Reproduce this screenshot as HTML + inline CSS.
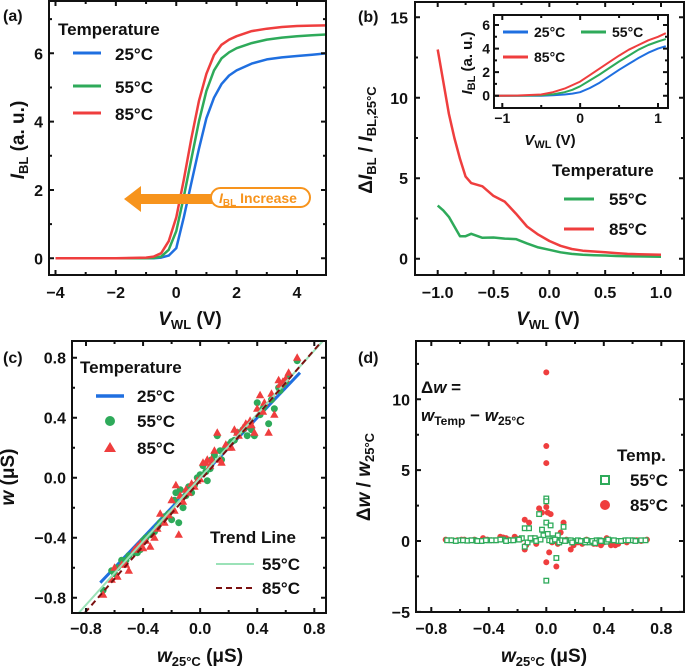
<!DOCTYPE html>
<html><head><meta charset="utf-8">
<style>
html,body{margin:0;padding:0;background:#fff;}
svg{display:block;font-family:"Liberation Sans",Arial,sans-serif;font-weight:bold;}
</style></head>
<body>
<svg id="fig" width="685" height="672" viewBox="0 0 685 672" xmlns="http://www.w3.org/2000/svg">
<g id="layer"></g>
</svg>
<script>
// ---------- DATA ----------
// Panel (a)
const aX = [-4,-2,-1,-0.75,-0.5,-0.25,0,0.25,0.5,0.75,1,1.25,1.5,1.75,2,2.5,3,3.5,4,4.5,5];
const a25 = [0,0,0,0,0.02,0.08,0.3,1.2,2.2,3.2,4.1,4.7,5.1,5.35,5.5,5.7,5.82,5.88,5.92,5.96,6.0];
const a55 = [0,0,0,0.01,0.05,0.25,0.8,1.8,2.9,4.0,4.9,5.5,5.85,6.03,6.15,6.3,6.4,6.46,6.5,6.53,6.55];
const a85 = [0,0,0.02,0.05,0.15,0.5,1.2,2.3,3.5,4.6,5.4,5.95,6.25,6.4,6.5,6.65,6.72,6.77,6.8,6.81,6.82];
const aXTicks = [-4,-2,0,2,4];
const aYTicks = [0,2,4,6];
// Panel (b)
const bX = [-1,-0.95,-0.9,-0.85,-0.8,-0.75,-0.7,-0.6,-0.5,-0.4,-0.3,-0.2,-0.1,0,0.1,0.2,0.3,0.4,0.5,0.6,0.7,0.8,1.0];
const b85 = [13,11,9,7.5,6.2,5.1,4.7,4.5,3.9,3.55,2.8,2.0,1.5,1.1,0.8,0.6,0.5,0.45,0.4,0.35,0.3,0.28,0.25];
const b55 = [3.3,3.0,2.6,2.0,1.4,1.4,1.55,1.3,1.32,1.25,1.22,0.95,0.7,0.55,0.4,0.3,0.25,0.22,0.2,0.17,0.15,0.14,0.12];
const bXTicks = [-1.0,-0.5,0.0,0.5,1.0];
const bXLabels = ["\u22121.0","\u22120.5","0.0","0.5","1.0"];
const bYTicks = [0,5,10,15];
// Inset
const iX = [-1.1,-0.8,-0.5,-0.35,-0.2,-0.1,0,0.125,0.25,0.375,0.5,0.625,0.75,0.875,1,1.1];
const i25 = [0,0,0,0.03,0.1,0.18,0.3,0.65,1.1,1.65,2.2,2.7,3.2,3.65,4.0,4.2];
const i55 = [0,0,0.03,0.12,0.3,0.5,0.8,1.3,1.8,2.35,2.9,3.4,3.9,4.3,4.6,4.8];
const i85 = [0,0.02,0.1,0.3,0.6,0.9,1.2,1.75,2.3,2.85,3.4,3.9,4.3,4.7,5.0,5.3];
const iXTicks = [-1,0,1];
const iYTicks = [0,2,4,6];
// Panel (c)
const cX   = [-0.68,-0.62,-0.58,-0.55,-0.5,-0.46,-0.42,-0.4,-0.35,-0.32,-0.28,-0.25,-0.2,-0.17,-0.15,-0.12,-0.1,-0.06,-0.02,0.02,0.05,0.08,0.1,0.12,0.15,0.18,0.2,0.24,0.27,0.3,0.33,0.36,0.38,0.4,0.42,0.45,0.48,0.52,0.55,0.58,0.62,0.68,
              -0.6,-0.52,-0.44,-0.38,-0.3,-0.22,-0.18,-0.14,-0.08,-0.04,0.0,0.04,0.07,0.14,0.22,0.26,0.32,0.35,0.44,0.5,0.56,0.6];
const c55  = [-0.75,-0.62,-0.6,-0.55,-0.52,-0.5,-0.48,-0.42,-0.38,-0.36,-0.3,-0.26,-0.28,-0.1,-0.3,-0.2,-0.12,-0.1,0.0,0.08,-0.02,0.12,0.15,0.28,0.12,0.2,0.22,0.25,0.3,0.32,0.28,0.32,0.28,0.5,0.42,0.48,0.36,0.46,0.6,0.62,0.68,0.78,
              -0.64,-0.55,-0.5,-0.4,-0.33,-0.24,-0.15,-0.08,-0.06,-0.05,0.02,0.04,0.06,0.18,0.24,0.3,0.34,0.36,0.46,0.52,0.58,0.64];
const c85  = [-0.78,-0.68,-0.66,-0.58,-0.62,-0.48,-0.44,-0.47,-0.46,-0.4,-0.24,-0.3,-0.15,-0.05,-0.38,-0.16,-0.08,-0.04,-0.02,0.1,0.12,0.12,0.18,0.3,0.1,0.22,0.2,0.32,0.28,0.33,0.35,0.35,0.3,0.46,0.55,0.5,0.3,0.42,0.65,0.64,0.7,0.8,
              -0.6,-0.58,-0.46,-0.42,-0.34,-0.25,-0.22,-0.12,-0.1,-0.06,-0.01,0.1,0.08,0.12,0.2,0.3,0.36,0.38,0.44,0.56,0.62,0.66];
const c25Line = [-0.7,0.7];
const cTrend55 = [1.06,0.0];
const cTrend85 = [1.09,-0.02];
const cTicks = [-0.8,-0.4,0.0,0.4,0.8];
const cLabels = ["\u22120.8","\u22120.4","0.0","0.4","0.8"];
// Panel (d)
const dX55 = [-0.69,-0.6,-0.55,-0.5,-0.45,-0.4,-0.35,-0.3,-0.25,-0.2,-0.17,-0.15,-0.15,-0.12,-0.1,-0.08,-0.05,-0.03,-0.02,0,0,0,0,0.01,0.02,0.03,0.05,0.07,0.08,0.1,0.12,0.15,0.2,0.25,0.3,0.35,0.4,0.45,0.5,0.55,0.6,0.66,
              -0.66,-0.63,-0.58,-0.52,-0.48,-0.42,-0.38,-0.32,-0.28,-0.23,-0.19,-0.13,-0.11,-0.07,-0.04,0.04,0.06,0.09,0.11,0.13,0.17,0.18,0.22,0.24,0.27,0.28,0.32,0.34,0.37,0.38,0.42,0.43,0.47,0.52,0.57,0.62,0.69];
const d55  = [0.05,0.05,0.02,0.05,0.0,0.05,0.05,0.1,0.05,0.1,0.2,0.9,-0.4,0.9,0.1,0.2,1.9,0.8,0.4,3.0,2.8,1.3,-2.8,0.5,0.05,1.1,0.2,-1.2,0.4,0.05,1.0,0.05,0.0,0.0,-0.1,0.05,0.0,0.05,0.0,0.05,0.05,0.05,
              0.05,0.0,0.05,0.05,0.0,0.05,0.05,0.1,0.0,0.05,0.1,-0.1,0.2,0.0,0.1,0.0,0.1,-0.1,0.05,0.0,0.05,-0.1,0.05,0.0,-0.1,0.05,0.0,-0.15,0.05,0.0,-0.05,0.1,0.05,0.0,0.05,0.0,0.05];
const dX85 = [-0.7,-0.62,-0.57,-0.5,-0.44,-0.38,-0.32,-0.28,-0.22,-0.18,-0.15,-0.15,-0.12,-0.05,-0.03,0,0,0,0,0,0.01,0.02,0.03,0.05,0.07,0.1,0.12,0.17,0.22,0.28,0.33,0.38,0.42,0.48,0.53,0.6,0.7,
              -0.66,-0.59,-0.53,-0.47,-0.41,-0.35,-0.3,-0.26,-0.2,-0.14,-0.09,-0.07,0.04,0.08,0.14,0.19,0.25,0.3,0.35,0.4,0.45,0.5,0.56,0.63,0.66];
const d85  = [0.1,0.05,0.1,0.1,0.2,0.05,0.3,0.2,0.3,0.1,1.5,-0.6,1.3,2.3,2.0,11.9,6.7,5.5,2.4,-1.5,2.0,-0.8,1.9,0.0,-1.8,0.6,1.3,-0.6,-0.1,0.1,-0.2,-0.3,0.2,-0.3,0.0,0.05,0.1,
              0.05,0.1,0.05,0.0,0.1,0.05,0.25,0.1,0.15,-0.3,0.2,-0.2,-0.1,-0.2,0.1,-0.3,-0.2,0.0,-0.2,-0.1,-0.3,-0.2,-0.1,0.05,0.0];
const dXTicks = [-0.8,-0.4,0.0,0.4,0.8];
const dYTicks = [-5,0,5,10];

// ---------- HELPERS ----------
const NS="http://www.w3.org/2000/svg";
const root=document.getElementById('layer');
function mk(tag,attrs,parent){const e=document.createElementNS(NS,tag);for(const k in attrs)e.setAttribute(k,attrs[k]);(parent||root).appendChild(e);return e;}
function lin(d0,d1,r0,r1){return v=>r0+(v-d0)*(r1-r0)/(d1-d0);}
const BLUE="#1f6fe0",GREEN="#2eaa5a",RED="#ef3e3e";
function ticks(box,xs,xt,ys,yt,xminor,yminor){
  const g=mk('g',{});
  
  
  let d='';
  const L=5,l=3;
  xt.forEach(v=>{const x=xs(v);d+=`M${x},${box.y1}v${-L}M${x},${box.y0}v${L}`;});
  (xminor||[]).forEach(v=>{const x=xs(v);d+=`M${x},${box.y1}v${-l}M${x},${box.y0}v${l}`;});
  yt.forEach(v=>{const y=ys(v);d+=`M${box.x0},${y}h${L}M${box.x1},${y}h${-L}`;});
  (yminor||[]).forEach(v=>{const y=ys(v);d+=`M${box.x0},${y}h${l}M${box.x1},${y}h${-l}`;});
  mk('path',{d:d,stroke:'#111','stroke-width':2,fill:'none'},g);
}
function frame(box,name){
  const r=mk('rect',{x:box.x0,y:box.y0,width:box.x1-box.x0,height:box.y1-box.y0,fill:'none',stroke:'#111','stroke-width':2});
  
  
}
function txt(x,y,s,opt){
  opt=opt||{};
  const t=mk('text',{x:x,y:y,'font-size':opt.size||16,'text-anchor':opt.anchor||'start',fill:opt.fill||'#111'});
  if(opt.rot)t.setAttribute('transform',`rotate(${opt.rot} ${x} ${y})`);
  t.innerHTML=s;
  
  
  return t;
}
function line(xs,ys,X,Y,color,name,w,dash){
  const p=X.map((v,i)=>`${i?'L':'M'}${xs(v).toFixed(1)},${ys(Y[i]).toFixed(1)}`).join('');
  const e=mk('path',{d:p,stroke:color,'stroke-width':w||2.5,fill:'none','stroke-linejoin':'round'});
  if(dash)e.setAttribute('stroke-dasharray',dash);
  
  
  return e;
}
function clip(id,box){
  const defs=mk('defs',{});const c=mk('clipPath',{id:id},defs);
  mk('rect',{x:box.x0,y:box.y0,width:box.x1-box.x0,height:box.y1-box.y0},c);
}

// ---------- PANEL A ----------
{
const box={x0:49,x1:326,y0:1,y1:275};
const xs=lin(-4,4,55.5,297),ys=lin(0,6,258.3,53.3);
clip('ca',box);
const g=mk('g',{'clip-path':'url(#ca)'});
g.appendChild(line(xs,ys,aX,a25,BLUE,'curve-25c'));
g.appendChild(line(xs,ys,aX,a55,GREEN,'curve-55c'));
g.appendChild(line(xs,ys,aX,a85,RED,'curve-85c'));
frame(box,'plot-frame-a');
ticks(box,xs,aXTicks,ys,aYTicks,[-3,-1,1,3],[1,3,5,7]);
aXTicks.forEach(v=>txt(xs(v),298,String(v).replace('-','\u2212'),{anchor:'middle',name:'x-tick-label'}));
aYTicks.forEach(v=>txt(43,ys(v)+6,v,{anchor:'end',name:'y-tick-label'}));
txt(3,21,'(a)',{name:'panel-label-a'});
txt(190,325,'<tspan font-style="italic">V</tspan><tspan font-size="13" dy="4">WL</tspan><tspan dy="-4"> (V)</tspan>',{size:19,anchor:'middle',name:'x-axis-title-a'});
txt(24,140,'<tspan font-style="italic">I</tspan><tspan font-size="13" dy="4">BL</tspan><tspan dy="-4"> (a. u.)</tspan>',{size:19,anchor:'middle',rot:-90,name:'y-axis-title-a'});
txt(58,35,'Temperature',{size:17,name:'legend-title-a'});
[[BLUE,'25°C',53],[GREEN,'55°C',86],[RED,'85°C',113]].forEach(([c,s,y])=>{
  const l=mk('line',{x1:73,x2:101,y1:y,y2:y,stroke:c,'stroke-width':3});
  
  txt(115,y+7,s,{size:17,name:'legend-entry'});
});
const ar=mk('path',{d:'M124,199 L141,186 L141,194 L212,194 L212,204 L141,204 L141,212 Z',fill:'#f7941d'});

const bx=mk('rect',{x:211,y:188,width:99,height:19,rx:9.5,fill:'#fff',stroke:'#f7941d','stroke-width':2});

txt(219,203,'<tspan font-style="italic">I</tspan><tspan font-size="10" dy="3">BL</tspan><tspan dy="-3"> Increase</tspan>',{size:14,fill:'#f7941d',name:'increase-label'});
}

// ---------- PANEL B ----------
{
const box={x0:415,x1:684,y0:2,y1:275};
const xs=lin(-1,1,437.7,661),ys=lin(0,15,258.7,17.3);
line(xs,ys,bX,b55,GREEN,'delta-55c');
line(xs,ys,bX,b85,RED,'delta-85c');
frame(box,'plot-frame-b');
ticks(box,xs,bXTicks,ys,bYTicks,[-0.75,-0.25,0.25,0.75],[2.5,7.5,12.5]);
bXTicks.forEach((v,i)=>txt(xs(v),298,bXLabels[i],{anchor:'middle',name:'x-tick-label'}));
bYTicks.forEach(v=>txt(408,ys(v)+6,v,{anchor:'end',name:'y-tick-label'}));
txt(358,22,'(b)',{name:'panel-label-b'});
txt(548,325,'<tspan font-style="italic">V</tspan><tspan font-size="13" dy="4">WL</tspan><tspan dy="-4"> (V)</tspan>',{size:19,anchor:'middle',name:'x-axis-title-b'});
txt(372,140,'Δ<tspan font-style="italic">I</tspan><tspan font-size="13" dy="4">BL</tspan><tspan dy="-4"> / </tspan><tspan font-style="italic">I</tspan><tspan font-size="13" dy="4">BL,25°C</tspan>',{size:19,anchor:'middle',rot:-90,name:'y-axis-title-b'});
txt(552,176,'Temperature',{size:17,name:'legend-title-b'});
[[GREEN,'55°C',199],[RED,'85°C',229]].forEach(([c,s,y])=>{
  const l=mk('line',{x1:564,x2:594,y1:y,y2:y,stroke:c,'stroke-width':3});
  
  txt(609,y+6,s,{size:17,name:'legend-entry'});
});
// inset
const ib={x0:494,x1:668,y0:15,y1:108};
const ixs=lin(-1,1,502.3,658),iys=lin(0,6,95.7,25);
const bg=mk('rect',{x:ib.x0,y:ib.y0,width:ib.x1-ib.x0,height:ib.y1-ib.y0,fill:'#fff'});

clip('ci',ib);
const g=mk('g',{'clip-path':'url(#ci)'});
g.appendChild(line(ixs,iys,iX,i25,BLUE,'inset-curve-25c',2));
g.appendChild(line(ixs,iys,iX,i55,GREEN,'inset-curve-55c',2));
g.appendChild(line(ixs,iys,iX,i85,RED,'inset-curve-85c',2));
frame(ib,'inset-frame');
ticks(ib,ixs,iXTicks,iys,iYTicks,[-0.5,0.5],[1,3,5]);
iXTicks.forEach(v=>txt(ixs(v),123,String(v).replace('-','\u2212'),{size:14,anchor:'middle',name:'inset-x-tick-label'}));
iYTicks.forEach(v=>txt(490,iys(v)+5,v,{size:14,anchor:'end',name:'inset-y-tick-label'}));
txt(550,145,'<tspan font-style="italic">V</tspan><tspan font-size="11" dy="3">WL</tspan><tspan dy="-3"> (V)</tspan>',{size:15,anchor:'middle',name:'inset-x-title'});
txt(472,63,'<tspan font-style="italic">I</tspan><tspan font-size="11" dy="3">BL</tspan><tspan dy="-3"> (a. u.)</tspan>',{size:15,anchor:'middle',rot:-90,name:'inset-y-title'});
[[BLUE,'25°C',506,32],[GREEN,'55°C',584,32],[RED,'85°C',506,57]].forEach(([c,s,x,y])=>{
  const l=mk('line',{x1:x-3,x2:x+22,y1:y,y2:y,stroke:c,'stroke-width':3});
  
  txt(x+28,y+5,s,{size:14,name:'inset-legend-entry'});
});
}

// ---------- PANEL C ----------
{
const box={x0:72,x1:326,y0:341,y1:613};
const xs=lin(-0.8,0.8,86,314.3),ys=lin(-0.8,0.8,597.7,357.7);
clip('cc',box);
const g=mk('g',{'clip-path':'url(#cc)'});
g.appendChild(line(xs,ys,c25Line,c25Line,BLUE,'line-25c',3));
cX.forEach((v,i)=>{const c=mk('circle',{cx:xs(v),cy:ys(c55[i]),r:3.5,fill:GREEN},g);
  });
cX.forEach((v,i)=>{const x=xs(v),y=ys(c85[i]);const p=mk('path',{d:`M${x},${y-4.5}L${x+4.2},${y+3}L${x-4.2},${y+3}Z`,fill:RED},g);
  });
const tx=[-0.9,0.9];
g.appendChild(line(xs,ys,tx,tx.map(v=>cTrend55[0]*v+cTrend55[1]),'#9be2b8','trend-55c',2));
g.appendChild(line(xs,ys,tx,tx.map(v=>cTrend85[0]*v+cTrend85[1]),'#7a1010','trend-85c',2,'6,4'));
frame(box,'plot-frame-c');
ticks(box,xs,cTicks,ys,cTicks,[-0.6,-0.2,0.2,0.6],[-0.6,-0.2,0.2,0.6]);
cTicks.forEach((v,i)=>txt(xs(v),634,cLabels[i],{anchor:'middle',name:'x-tick-label'}));
cTicks.forEach((v,i)=>txt(66,ys(v)+6,cLabels[i],{anchor:'end',name:'y-tick-label'}));
txt(3,363,'(c)',{name:'panel-label-c'});
txt(200,662,'<tspan font-style="italic">w</tspan><tspan font-size="13" dy="4">25°C</tspan><tspan dy="-4"> (μS)</tspan>',{size:19,anchor:'middle',name:'x-axis-title-c'});
txt(14,477,'<tspan font-style="italic">w</tspan> (μS)',{size:19,anchor:'middle',rot:-90,name:'y-axis-title-c'});
txt(80,373,'Temperature',{size:17,name:'legend-title-c'});
const l=mk('line',{x1:96,x2:124,y1:396,y2:396,stroke:BLUE,'stroke-width':3.5});

txt(137,402,'25°C',{size:17,name:'legend-entry'});
const c=mk('circle',{cx:110,cy:421,r:5,fill:GREEN});
txt(137,427,'55°C',{size:17,name:'legend-entry'});
const t=mk('path',{d:'M110,442L116,452L104,452Z',fill:RED});
txt(137,454,'85°C',{size:17,name:'legend-entry'});
txt(210,543,'Trend Line',{size:17,name:'legend-title-trend'});
const l2=mk('line',{x1:216,x2:254,y1:564,y2:564,stroke:'#9be2b8','stroke-width':2});

txt(262,570,'55°C',{size:17,name:'legend-entry'});
const l3=mk('line',{x1:216,x2:254,y1:588,y2:588,stroke:'#7a1010','stroke-width':2,'stroke-dasharray':'6,4'});

txt(262,594,'85°C',{size:17,name:'legend-entry'});
}

// ---------- PANEL D ----------
{
const box={x0:416,x1:684,y0:341,y1:612};
const xs=lin(-0.8,0.8,431.3,661.3),ys=lin(0,10,541,399.3);
clip('cd',box);
const g=mk('g',{'clip-path':'url(#cd)'});
dX85.forEach((v,i)=>{const c=mk('circle',{cx:xs(v),cy:ys(d85[i]),r:3,fill:RED},g);
  });
dX55.forEach((v,i)=>{const r=mk('rect',{x:xs(v)-2.3,y:ys(d55[i])-2.3,width:4.6,height:4.6,fill:'#fff',stroke:GREEN,'stroke-width':1.3},g);
  });
frame(box,'plot-frame-d');
ticks(box,xs,dXTicks,ys,dYTicks,[-0.6,-0.2,0.2,0.6],[-2.5,2.5,7.5,12.5]);
dXTicks.forEach((v,i)=>txt(xs(v),634,cLabels[i],{anchor:'middle',name:'x-tick-label'}));
dYTicks.forEach(v=>txt(410,ys(v)+6,String(v).replace('-','\u2212'),{anchor:'end',name:'y-tick-label'}));
txt(358,363,'(d)',{name:'panel-label-d'});
txt(544,662,'<tspan font-style="italic">w</tspan><tspan font-size="13" dy="4">25°C</tspan><tspan dy="-4"> (μS)</tspan>',{size:19,anchor:'middle',name:'x-axis-title-d'});
txt(370,477,'Δ<tspan font-style="italic">w</tspan> / <tspan font-style="italic">w</tspan><tspan font-size="13" dy="4">25°C</tspan>',{size:19,anchor:'middle',rot:-90,name:'y-axis-title-d'});
txt(421,393,'Δ<tspan font-style="italic">w</tspan> =',{size:17,name:'formula-line1'});
txt(421,421,'<tspan font-style="italic">w</tspan><tspan font-size="12" dy="4">Temp</tspan><tspan dy="-4"> − </tspan><tspan font-style="italic">w</tspan><tspan font-size="12" dy="4">25°C</tspan>',{size:17,name:'formula-line2'});
txt(617,461,'Temp.',{size:17,name:'legend-title-d'});
const r=mk('rect',{x:601,y:476,width:8,height:8,fill:'#fff',stroke:GREEN,'stroke-width':2});

txt(630,486,'55°C',{size:17,name:'legend-entry'});
const c=mk('circle',{cx:605,cy:505,r:5,fill:RED});
txt(630,511,'85°C',{size:17,name:'legend-entry'});
}
</script>
</body></html>
